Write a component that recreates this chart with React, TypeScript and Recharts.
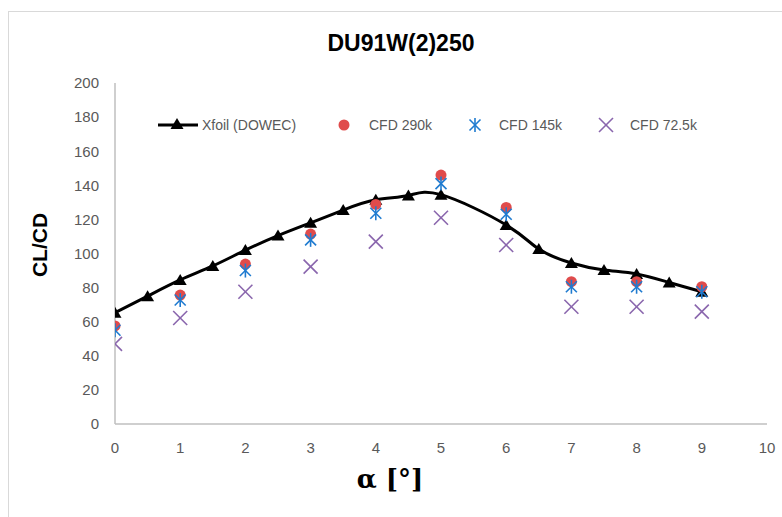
import { ComposedChart, Line, Scatter, XAxis, YAxis } from 'recharts';

// Xfoil (DOWEC) polar, α in degrees
const xfoilAlpha = [0, 0.5, 1, 1.5, 2, 2.5, 3, 3.5, 4, 4.5, 5, 6, 6.5, 7, 7.5, 8, 8.5, 9];
const xfoilClCd = [65.3, 75, 84.5, 92.7, 102, 110.5, 118, 125.5, 131.5, 134, 134.5, 116.7, 102.6, 94.4, 90.3, 88, 83, 77.6];

// CFD runs at integer angles
const cfdAlpha = [0, 1, 2, 3, 4, 5, 6, 7, 8, 9];
const cfd290k = [57.5, 75.6, 93.8, 111.4, 128.8, 146, 127, 83.5, 83.5, 80.5];
const cfd145k = [55, 72.7, 90, 108, 123.6, 141, 123, 80.5, 80.5, 77.6];
const cfd72k = [47, 62.2, 77.6, 92.3, 107, 121, 105, 68.8, 68.8, 65.9];

const xTicks = [0, 1, 2, 3, 4, 5, 6, 7, 8, 9, 10];
const yTicks = [0, 20, 40, 60, 80, 100, 120, 140, 160, 180, 200];

const toPoints = (xs: number[], ys: number[]) => xs.map((a, i) => ({ a, v: ys[i] }));

const xfoilData = toPoints(xfoilAlpha, xfoilClCd);
const data290 = toPoints(cfdAlpha, cfd290k);
const data145 = toPoints(cfdAlpha, cfd145k);
const data72 = toPoints(cfdAlpha, cfd72k);

const RED = '#e04b4b';
const BLUE = '#1f7bd0';
const PURPLE = '#8a66ad';
const GREY_TEXT = '#595959';
const FONT = '"Liberation Sans", Arial, sans-serif';

const Triangle = ({ cx, cy }: any) => (
  <path d={`M${cx},${cy - 6} L${cx + 6.5},${cy + 5} L${cx - 6.5},${cy + 5} Z`} fill="#000" />
);

const Dot = ({ cx, cy }: any) => <circle cx={cx} cy={cy} r={5.5} fill={RED} />;

const Star = ({ cx, cy }: any) => (
  <g stroke={BLUE} strokeWidth={1.6}>
    <line x1={cx - 5.5} y1={cy - 5.5} x2={cx + 5.5} y2={cy + 5.5} />
    <line x1={cx - 5.5} y1={cy + 5.5} x2={cx + 5.5} y2={cy - 5.5} />
    <line x1={cx} y1={cy - 7} x2={cx} y2={cy + 7} />
  </g>
);

const Cross = ({ cx, cy }: any) => (
  <g stroke={PURPLE} strokeWidth={1.6}>
    <line x1={cx - 7} y1={cy - 7} x2={cx + 7} y2={cy + 7} />
    <line x1={cx - 7} y1={cy + 7} x2={cx + 7} y2={cy - 7} />
  </g>
);

function LegendBox() {
  const text = { fontFamily: FONT, fontSize: 14, fill: GREY_TEXT } as const;
  return (
    <svg width={580} height={20} style={{ overflow: 'visible', display: 'block' }}>
      <line x1={18} y1={10} x2={58} y2={10} stroke="#000" strokeWidth={3} />
      <Triangle cx={37} cy={9} />
      <text x={62} y={15} {...text}>Xfoil (DOWEC)</text>
      <Dot cx={204} cy={10} />
      <text x={229} y={15} {...text}>CFD 290k</text>
      <Star cx={335} cy={10} />
      <text x={359} y={15} {...text}>CFD 145k</text>
      <Cross cx={466} cy={10} />
      <text x={490} y={15} {...text}>CFD 72.5k</text>
    </svg>
  );
}

export default function App() {
  return (
    <div style={{ position: 'absolute', left: 0, top: 0, width: 782, height: 517, overflow: 'hidden', background: '#fff' }}>
      <div style={{ position: 'absolute', left: 8, top: 11, width: 820, height: 620, border: '1px solid #d9d9d9' }} />
      <div style={{ position: 'absolute', left: 10, top: 30, width: 782, textAlign: 'center', fontFamily: FONT, fontWeight: 'bold', fontSize: 23, color: '#000' }}>
        DU91W(2)250
      </div>
      <div style={{ position: 'absolute', left: 40, top: 245, transform: 'translate(-50%, -50%) rotate(-90deg)', fontFamily: FONT, fontWeight: 'bold', fontSize: 21, color: '#000', whiteSpace: 'nowrap' }}>
        CL/CD
      </div>
      <div style={{ position: 'absolute', left: 390, top: 479, transform: 'translate(-50%, -50%)', fontFamily: '"DejaVu Serif", serif', fontWeight: 'bold', fontSize: 26, color: '#000', whiteSpace: 'nowrap' }}>
        α [°]
      </div>
      <div style={{ position: 'absolute', left: 0, top: 0 }}>
        <ComposedChart width={782} height={517} margin={{ top: 83, right: 15, bottom: 0, left: 0 }}>
          <XAxis
            type="number"
            dataKey="a"
            domain={[0, 10]}
            ticks={xTicks}
            interval={0}
            allowDataOverflow
            height={93}
            stroke="#bfbfbf"
            strokeWidth={1.5}
            tickSize={0}
            tickMargin={18}
            tick={{ fill: GREY_TEXT, fontSize: 15, fontFamily: FONT }}
          />
          <YAxis
            type="number"
            dataKey="v"
            domain={[0, 200]}
            ticks={yTicks}
            interval={0}
            width={115}
            stroke="#bfbfbf"
            strokeWidth={1.5}
            tickSize={0}
            tickMargin={16}
            tick={{ fill: GREY_TEXT, fontSize: 15, fontFamily: FONT }}
          />
          <Line
            data={xfoilData}
            dataKey="v"
            type="natural"
            stroke="#000"
            strokeWidth={3}
            dot={<Triangle />}
            activeDot={false}
            isAnimationActive={false}
            legendType="none"
          />
          <Scatter data={data290} dataKey="v" shape={<Dot />} isAnimationActive={false} />
          <Scatter data={data145} dataKey="v" shape={<Star />} isAnimationActive={false} />
          <Scatter data={data72} dataKey="v" shape={<Cross />} isAnimationActive={false} />
        </ComposedChart>
      </div>
      <div style={{ position: 'absolute', left: 140, top: 115 }}>
        <LegendBox />
      </div>
    </div>
  );
}
